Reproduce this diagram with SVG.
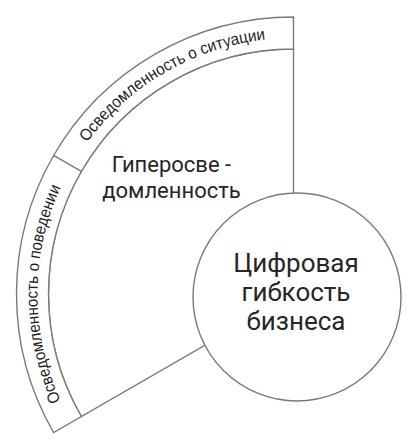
<svg xmlns="http://www.w3.org/2000/svg" width="416" height="446" viewBox="0 0 416 446">
<style>
.ln{fill:#fff;stroke:#7a7a7a;stroke-width:1.4;stroke-linejoin:miter}
.arc{font-family:"Liberation Sans",Arial,sans-serif;font-size:16.5px;fill:#1e1e1e}
.lbl{font-family:Roboto,"Noto Sans",sans-serif;font-size:22px;fill:#262626;text-anchor:middle}
.big{font-family:Roboto,"Noto Sans",sans-serif;font-size:26px;fill:#262626;text-anchor:middle}
</style>
<defs>
<path id="pSit" d="M 71.8 166 A 256 256 0 0 1 293.5 38" fill="none"/>
<path id="pBeh" d="M 71.8 422 A 256 256 0 0 1 71.8 166" fill="none"/>
</defs>
<rect width="416" height="446" fill="#fff"/>
<g id="hyper">
<path class="ln" d="M 293.5 49 A 245 245 0 0 0 81.32 416.5 L 293.5 294 Z"/>
<text class="lbl" x="171.5" y="171.7">Гиперосве -</text>
<text class="lbl" x="171.5" y="198.3">домленность</text>
</g>
<g id="band-situation">
<path class="ln" d="M 293.5 17 A 277 277 0 0 0 53.61 155.5 L 81.32 171.5 A 245 245 0 0 1 293.5 49 Z"/>
<text class="arc"><textPath href="#pSit" startOffset="50%" text-anchor="middle" textLength="212" lengthAdjust="spacingAndGlyphs">Осведомленность о ситуации</textPath></text>
</g>
<g id="band-behavior">
<path class="ln" d="M 53.61 155.5 A 277 277 0 0 0 53.61 432.5 L 81.32 416.5 A 245 245 0 0 1 81.32 171.5 Z"/>
<text class="arc"><textPath href="#pBeh" startOffset="50%" text-anchor="middle" textLength="220" lengthAdjust="spacingAndGlyphs">Осведомленность о поведении</textPath></text>
</g>
<g id="core">
<circle class="ln" cx="297" cy="297" r="104"/>
<text class="big" x="296" y="271.7">Цифровая</text>
<text class="big" x="296" y="300.7">гибкость</text>
<text class="big" x="296" y="330">бизнеса</text>
</g>
<g id="connectors"></g>
</svg>
